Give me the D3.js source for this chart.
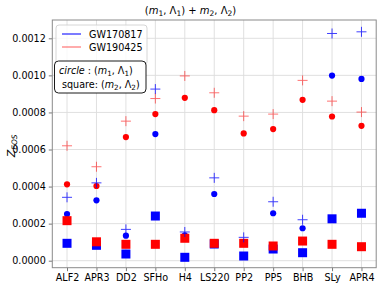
<!DOCTYPE html>
<html>
<head>
<meta charset="utf-8">
<script src="https://cdnjs.cloudflare.com/ajax/libs/d3/7.8.5/d3.min.js"></script>
<style>
  body { margin: 0; background: #fff; }
  svg text { font-family: "DejaVu Sans", sans-serif; }
</style>
</head>
<body>
<svg id="chart" width="381" height="286"></svg>
<script>
const eosNames = ["ALF2", "APR3", "DD2", "SFHo", "H4", "LS220", "PP2", "PP5", "BHB", "SLy", "APR4"];

// GW170817 (blue)
const gw170817Circle = [0.000252, 0.000326, 0.000135, 0.000683, 0.000137, 0.000360, 0.000101, 0.000256, 0.000175, 0.000999, 0.000981];
const gw170817Square = [0.0000938, 0.000083, 0.0000361, 0.000241, 0.0000183, 0.000090, 0.0000253, 0.000063, 0.0000431, 0.000226, 0.000256];
const gw170817Plus = [0.000342, 0.000420, 0.000169, 0.000926, 0.000155, 0.000447, 0.000126, 0.000318, 0.000221, 0.001226, 0.001235];

// GW190425 (red)
const gw190425Circle = [0.000412, 0.000403, 0.000667, 0.000791, 0.000879, 0.000812, 0.000687, 0.000710, 0.000868, 0.000778, 0.000728];
const gw190425Square = [0.000216, 0.000102, 0.0000884, 0.0000884, 0.000121, 0.0000938, 0.0000938, 0.0000793, 0.000106, 0.0000884, 0.0000755];
const gw190425Plus = [0.000620, 0.000507, 0.000753, 0.000875, 0.000997, 0.000906, 0.000780, 0.000791, 0.000973, 0.000861, 0.000802];

const yTicks = [0, 0.0002, 0.0004, 0.0006, 0.0008, 0.0010, 0.0012];

const svg = d3.select("#chart");
const plot = {left: 52.3, right: 376.2, top: 20, bottom: 267.7};
const font = 9.6;

let x = d3.scaleLinear().domain([-0.5, eosNames.length - 0.5]).range([plot.left, plot.right]);
let y = d3.scaleLinear().domain([-0.0000378, 0.0012988]).range([plot.bottom, plot.top]);

// grid
let grid = svg.append("g").attr("class", "grid");
grid.selectAll(".gx").data(eosNames).enter().append("line")
  .attr("x1", (d, i) => x(i)).attr("x2", (d, i) => x(i))
  .attr("y1", plot.top).attr("y2", plot.bottom)
  .attr("stroke", "#dcdcdc").attr("stroke-width", 0.9);
grid.selectAll(".gy").data(yTicks).enter().append("line")
  .attr("x1", plot.left).attr("x2", plot.right)
  .attr("y1", d => y(d)).attr("y2", d => y(d))
  .attr("stroke", "#dcdcdc").attr("stroke-width", 0.9);

// axes
let xAxis = d3.axisBottom(x)
  .tickValues(d3.range(eosNames.length))
  .tickFormat(i => eosNames[i])
  .tickSize(3.5).tickPadding(3);
let yAxis = d3.axisLeft(y)
  .tickValues(yTicks)
  .tickFormat(d3.format(".4f"))
  .tickSize(3.5).tickPadding(3);

let gx = svg.append("g").attr("transform", "translate(0," + plot.bottom + ")").call(xAxis);
let gy = svg.append("g").attr("transform", "translate(" + plot.left + ",0)").call(yAxis);
[gx, gy].forEach(g => {
  g.select(".domain").remove();
  g.selectAll(".tick line").attr("stroke", "#555").attr("stroke-width", 0.8);
  g.selectAll(".tick text").attr("fill", "#000").style("font-size", font + "px")
    .style("font-family", "'DejaVu Sans', sans-serif");
});

// frame
svg.append("rect")
  .attr("x", plot.left).attr("y", plot.top)
  .attr("width", plot.right - plot.left).attr("height", plot.bottom - plot.top)
  .attr("fill", "none").attr("stroke", "#8a8a8a").attr("stroke-width", 1);

// markers
let marks = svg.append("g").attr("class", "marks");

function drawCircles(vals, color) {
  marks.append("g").selectAll("circle").data(vals).enter().append("circle")
    .attr("cx", (d, i) => x(i)).attr("cy", d => y(d))
    .attr("r", 3.1).attr("fill", color);
}
function drawSquares(vals, color) {
  let s = 9;
  marks.append("g").selectAll("rect").data(vals).enter().append("rect")
    .attr("x", (d, i) => x(i) - s / 2).attr("y", d => y(d) - s / 2)
    .attr("width", s).attr("height", s).attr("fill", color);
}
function drawPluses(vals, color, alpha) {
  let h = 5;
  marks.append("g").attr("opacity", alpha).selectAll("path").data(vals).enter().append("path")
    .attr("d", (d, i) => {
      let cx = x(i), cy = y(d);
      return "M" + (cx - h) + "," + cy + "H" + (cx + h) + "M" + cx + "," + (cy - h) + "V" + (cy + h);
    })
    .attr("stroke", color).attr("stroke-width", 1).attr("fill", "none");
}

drawCircles(gw170817Circle, "blue");
drawSquares(gw170817Square, "blue");
drawCircles(gw190425Circle, "red");
drawSquares(gw190425Square, "red");
drawPluses(gw170817Plus, "blue", 0.75);
drawPluses(gw190425Plus, "red", 0.55);

// mathtext-ish pieces: italic letters and subscripts
function mathText(sel, parts, size) {
  parts.forEach(p => {
    let t = sel.append("tspan").text(p.t);
    if (p.i) t.style("font-style", "italic");
    if (p.sub) t.attr("baseline-shift", "-22%").style("font-size", (size * 0.75) + "px");
  });
  return sel;
}
let title = svg.append("text")
  .attr("x", 190.5).attr("y", 14)
  .attr("text-anchor", "middle")
  .style("font-size", "10px");
mathText(title, [
  {t: "("}, {t: "m", i: 1}, {t: "1", sub: 1}, {t: ", Λ"}, {t: "1", sub: 1}, {t: ") + "},
  {t: "m", i: 1}, {t: "2", sub: 1}, {t: ", Λ"}, {t: "2", sub: 1}, {t: ")"}
], 10);

// y label
let ylab = svg.append("text")
  .attr("transform", "translate(15," + ((plot.top + plot.bottom) / 2 + 2) + ") rotate(-90)")
  .attr("text-anchor", "middle")
  .style("font-size", "11px");
ylab.append("tspan").text("Z").style("font-style", "italic");
ylab.append("tspan").text("EOS").style("font-style", "italic")
  .attr("baseline-shift", "-25%").style("font-size", "7.5px");

// legend
let legend = svg.append("g").attr("class", "legend");
legend.append("rect")
  .attr("x", 56).attr("y", 25).attr("width", 91).attr("height", 40)
  .attr("rx", 3).attr("fill", "#fff").attr("fill-opacity", 0.8)
  .attr("stroke", "#cccccc").attr("stroke-width", 0.8);
const legendLabels = ["GW170817", "GW190425"];
const legendColors = ["blue", "red"];
const legendAlpha = [0.8, 0.5];
legendLabels.forEach((d, idx) => {
  let ly = 34 + idx * 13;
  legend.append("line")
    .attr("x1", 62).attr("x2", 81).attr("y1", ly).attr("y2", ly)
    .attr("stroke", legendColors[idx]).attr("stroke-opacity", legendAlpha[idx])
    .attr("stroke-width", 1.3);
  legend.append("text")
    .attr("x", 89).attr("y", ly + 3.5)
    .style("font-size", font + "px")
    .text(d);
});

// annotation box
let note = svg.append("g").attr("class", "note");
note.append("rect")
  .attr("x", 54.5).attr("y", 61).attr("width", 91.5).attr("height", 32)
  .attr("rx", 4).attr("fill", "#fff")
  .attr("stroke", "#000").attr("stroke-width", 0.9);
let l1 = note.append("text").attr("x", 59).attr("y", 74).style("font-size", font + "px");
mathText(l1, [
  {t: "circle", i: 1}, {t: " : ("}, {t: "m", i: 1}, {t: "1", sub: 1}, {t: ", Λ"}, {t: "1", sub: 1}, {t: ")"}
], font);
let l2 = note.append("text").attr("x", 62).attr("y", 88).style("font-size", font + "px");
mathText(l2, [
  {t: "square: ("}, {t: "m", i: 1}, {t: "2", sub: 1}, {t: ", Λ"}, {t: "2", sub: 1}, {t: ")"}
], font);
</script>
</body>
</html>
